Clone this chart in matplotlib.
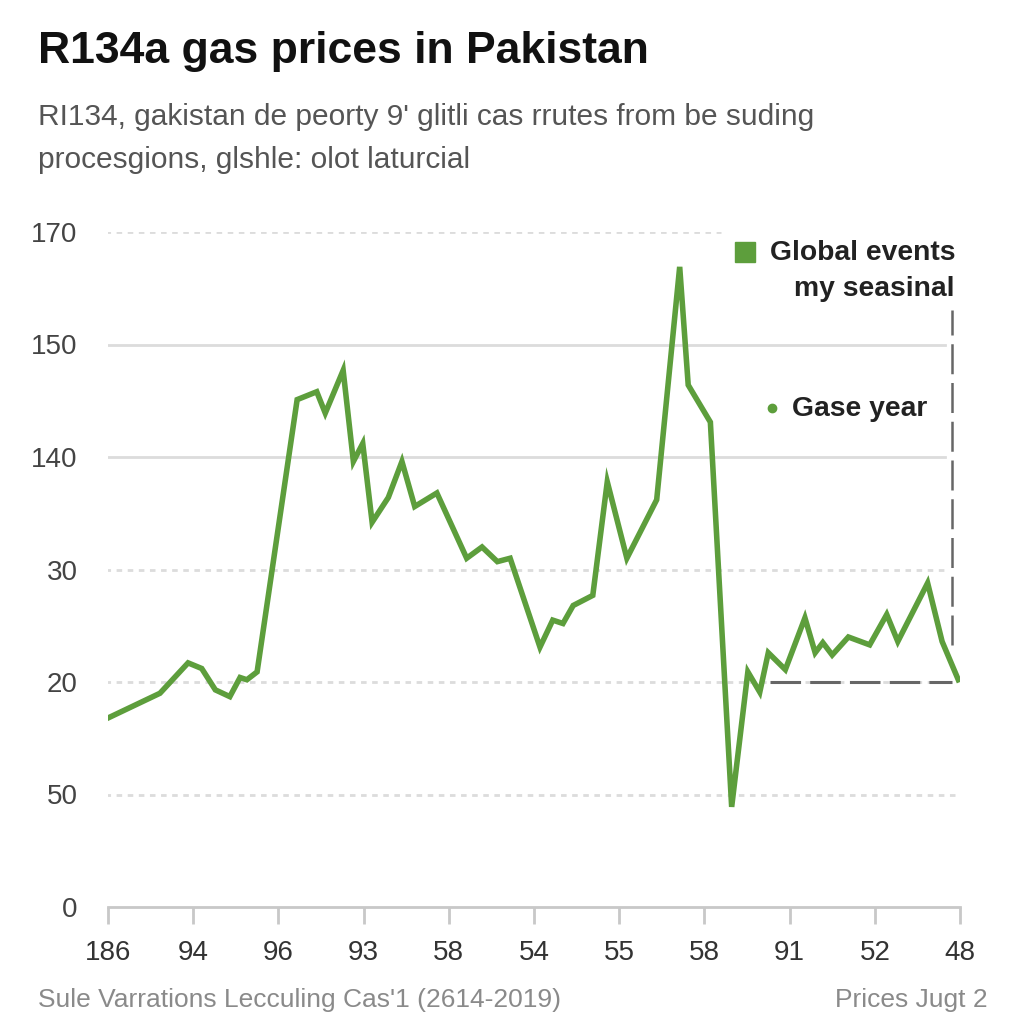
import matplotlib.pyplot as plt
from matplotlib.lines import Line2D

# values (x in tick slots, y in gridline slots)
x_vals = [0.0, 0.61, 0.94, 1.10, 1.26, 1.43, 1.55, 1.63, 1.75, 2.22, 2.45, 2.55, 2.76,
          2.88, 2.99, 3.10, 3.29, 3.45, 3.60, 3.86, 4.21, 4.39, 4.57, 4.72, 5.07, 5.22,
          5.34, 5.46, 5.69, 5.86, 6.09, 6.44, 6.71, 6.81, 7.07, 7.32, 7.51, 7.65, 7.75,
          7.95, 8.18, 8.30, 8.39, 8.50, 8.69, 8.94, 9.14, 9.27, 9.62, 9.79, 9.98]
y_vals = [1.68, 1.90, 2.17, 2.12, 1.93, 1.87, 2.04, 2.02, 2.09, 4.51, 4.58, 4.39, 4.77,
          3.96, 4.12, 3.42, 3.64, 3.96, 3.56, 3.68, 3.10, 3.20, 3.07, 3.10, 2.31, 2.55,
          2.52, 2.68, 2.77, 3.78, 3.10, 3.62, 5.69, 4.64, 4.31, 0.89, 2.09, 1.91, 2.26,
          2.11, 2.57, 2.26, 2.35, 2.24, 2.40, 2.33, 2.60, 2.36, 2.88, 2.36, 2.02]

x_labels = ['186', '94', '96', '93', '58', '54', '55', '58', '91', '52', '48']
y_labels = ['0', '50', '20', '30', '140', '150', '170']

GREEN = '#5d9e3c'
plt.rcParams['font.family'] = ['Liberation Sans', 'DejaVu Sans']

fig = plt.figure(figsize=(10.24, 10.24), dpi=100)
ax = fig.add_axes([108 / 1024, 117 / 1024, 852 / 1024, 675 / 1024])
ax.set_xlim(0, 10)
ax.set_ylim(0, 6)

# gridlines: style and extent per level
grid_styles = {1: ((0, (2, 2)), 1.0), 2: ((0, (2, 2)), 0.982), 3: ((0, (2, 2)), 0.982),
               4: ('-', 0.982), 5: ('-', 0.982), 6: ((0, (2, 2)), 0.72)}
for lvl, (ls, xmax) in grid_styles.items():
    ax.axhline(lvl, xmin=-0.004, xmax=xmax, color='#dcdcdc', lw=2, ls=ls, zorder=1)

ax.plot(x_vals, y_vals, color=GREEN, lw=4, solid_joinstyle='miter', zorder=3)

# dark dashed markers on the right
ax.plot([9.91, 9.91], [2.33, 5.31], color='#666666', lw=1.8, ls=(0, (12, 3.5)), zorder=2)
ax.plot([7.77, 9.91], [2.0, 2.0], color='#666666', lw=2.2, ls=(0, (10, 3)), zorder=2)

for s in ['top', 'right', 'left']:
    ax.spines[s].set_visible(False)
ax.spines['bottom'].set_color('#c8c8c8')
ax.spines['bottom'].set_linewidth(2)

ax.set_xticks(range(len(x_labels)))
ax.set_xticklabels(x_labels, fontsize=20, color='#333333')
ax.set_yticks(range(len(y_labels)))
ax.set_yticklabels(y_labels, fontsize=20, color='#444444')
ax.tick_params(axis='x', length=12, width=2, color='#c8c8c8', pad=12)
ax.tick_params(axis='y', length=0, pad=22)

# legend drawn by hand
fig.add_artist(Line2D([745 / 1024], [1 - 252 / 1024], marker='s', markersize=14,
                      color=GREEN, transform=fig.transFigure))
fig.text(955 / 1024, 1 - 253 / 1024, 'Global events', ha='right', va='center',
         fontsize=20.3, fontweight='bold', color='#222222')
fig.text(955 / 1024, 1 - 289 / 1024, 'my seasinal', ha='right', va='center',
         fontsize=20.3, fontweight='bold', color='#222222')
fig.add_artist(Line2D([772 / 1024], [1 - 408 / 1024], marker='o', markersize=6,
                      color=GREEN, transform=fig.transFigure))
fig.text(792 / 1024, 1 - 409 / 1024, 'Gase year', ha='left', va='center',
         fontsize=20.3, fontweight='bold', color='#222222')

fig.text(38 / 1024, 1 - 52 / 1024, 'R134a gas prices in Pakistan', ha='left', va='center',
         fontsize=32, fontweight='bold', color='#111111')
fig.text(38 / 1024, 1 - 117 / 1024, "RI134, gakistan de peorty 9' glitli cas rrutes from be suding",
         ha='left', va='center', fontsize=21.5, color='#555555')
fig.text(38 / 1024, 1 - 160 / 1024, 'procesgions, glshle: olot laturcial',
         ha='left', va='center', fontsize=21.5, color='#555555')

fig.text(38 / 1024, 1 - 1000 / 1024, "Sule Varrations Lecculing Cas'1 (2614-2019)",
         ha='left', va='center', fontsize=19, color='#8a8a8a')
fig.text(988 / 1024, 1 - 1000 / 1024, 'Prices Jugt 2', ha='right', va='center',
         fontsize=19, color='#8a8a8a')

fig.savefig('out.png', dpi=100, facecolor='white')
